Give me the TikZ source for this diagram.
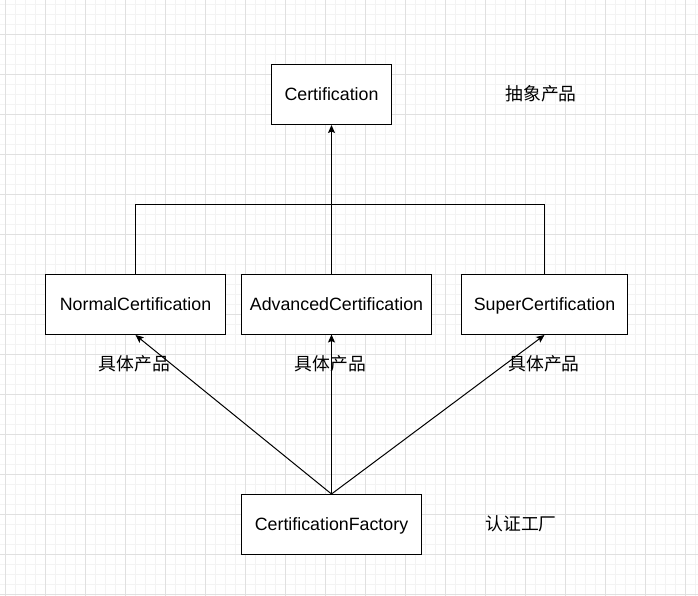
\documentclass[tikz,border=0pt]{standalone}
\usepackage{fontspec}
\setmainfont{Liberation Sans}
\newfontfamily\cjk{Noto Sans CJK SC}
\usetikzlibrary{arrows.meta}
\definecolor{gridmin}{HTML}{F3F3F3}
\definecolor{gridmaj}{HTML}{E0E0E0}
\tikzset{
  box/.style={draw=black, fill=white, line width=1pt, inner sep=0pt, minimum height=60pt, text height=12.7pt, text depth=1pt, font=\fontsize{17.8}{20}\selectfont},
  lbl/.style={inner sep=0pt, font=\cjk\fontsize{17.8}{20}\selectfont},
  conn/.style={line width=1pt, draw=black},
  arr/.style={conn, -{Stealth[length=8pt, width=7pt, inset=1.5pt]}},
}
\begin{document}
\begin{tikzpicture}[x=1pt, y=-1pt]
\useasboundingbox (0,0) rectangle (698,596);
\fill[white] (0,0) rectangle (698,596);
% grid
\foreach \i in {0,...,69} {\draw[gridmin, line width=1pt] (5.5+10*\i,0) -- (5.5+10*\i,596);}
\foreach \j in {0,...,59} {\draw[gridmin, line width=1pt] (0,4.5+10*\j) -- (698,4.5+10*\j);}
\foreach \i in {0,...,17} {\draw[gridmaj, line width=1pt] (5.5+40*\i,0) -- (5.5+40*\i,596);}
\foreach \j in {0,...,14} {\draw[gridmaj, line width=1pt] (0,34.5+40*\j) -- (698,34.5+40*\j);}
% nodes
\node[box, minimum width=120pt] (cert) at (331.5,94.5) {Certification};
\node[box, minimum width=180pt] (norm) at (135.5,304.5) {NormalCertification};
\node[box, minimum width=190pt] (adv) at (336.5,304.5) {AdvancedCertification};
\node[box, minimum width=166pt] (sup) at (544.5,304.5) {SuperCertification};
\node[box, minimum width=180pt] (fac) at (331.5,524.5) {CertificationFactory};
\node[lbl] (l0) at (541,94) {抽象产品};
\node[lbl] (l1) at (134.5,364) {具体产品};
\node[lbl] (l2) at (330.5,364) {具体产品};
\node[lbl] (l3) at (544,364) {具体产品};
\node[lbl] (l4) at (521,523.5) {认证工厂};
% connectors
\coordinate (bar) at (331.5,204.5);
\coordinate (advtop) at (331.5,274.5);
\coordinate (advbot) at (331.5,334.5);
\draw[conn] (norm.north) |- (bar) -| (sup.north);
\draw[arr] (advtop) -- (cert.south);
\draw[arr] (fac.north) -- (norm.south);
\draw[arr] (fac.north) -- (advbot);
\draw[arr] (fac.north) -- (sup.south);
\end{tikzpicture}
\end{document}
